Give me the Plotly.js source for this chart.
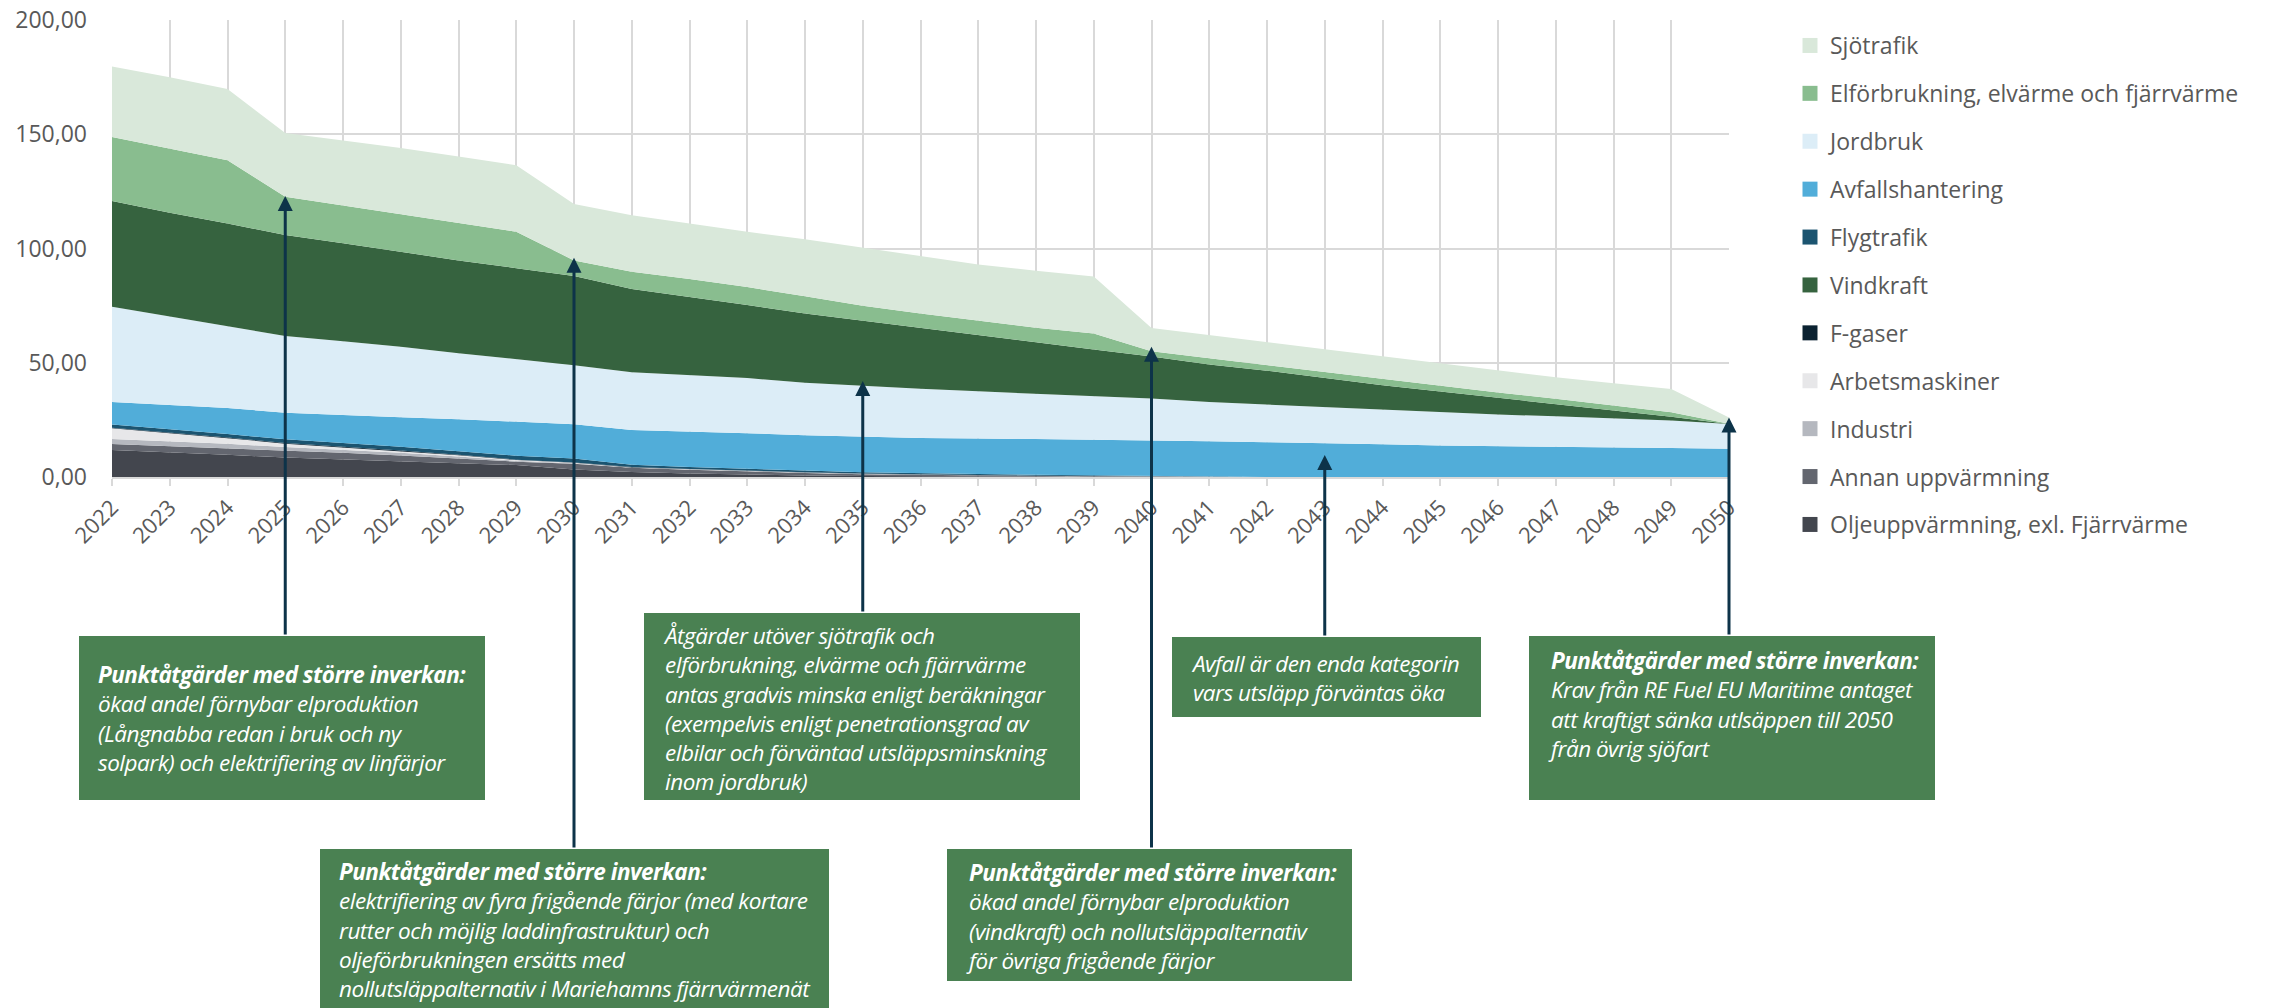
<!DOCTYPE html>
<html>
<head>
<meta charset="utf-8">
<script src="https://cdn.plot.ly/plotly-3.0.1.min.js"></script>
<style>
  html, body { margin: 0; padding: 0; background: #ffffff; }
  #chart { width: 2274px; height: 1008px; }
  svg text.annotation-text { letter-spacing: -0.5px; }
</style>
</head>
<body>
<div id="chart"></div>
<script>
// Utsläpp per sektor 2022–2050 (staplad yta)
const years = [2022, 2023, 2024, 2025, 2026, 2027, 2028, 2029, 2030, 2031, 2032, 2033, 2034, 2035, 2036,
  2037, 2038, 2039, 2040, 2041, 2042, 2043, 2044, 2045, 2046, 2047, 2048, 2049, 2050];

const oljeuppvarmning = [11.8, 10.9, 9.7, 8.5, 7.7, 6.9, 6.0, 5.2, 3.3, 2.2, 1.5, 1.0, 0.7, 0.4, 0.3,
  0.2, 0.15, 0.1, 0.05, 0, 0, 0, 0, 0, 0, 0, 0, 0, 0];
const annanUppvarmning = [2.6, 2.6, 2.9, 3.2, 2.9, 2.5, 2.1, 1.5, 2.5, 1.8, 1.7, 1.4, 1.1, 0.8, 0.6,
  0.4, 0.25, 0.15, 0.1, 0, 0, 0, 0, 0, 0, 0, 0, 0, 0];
const industri = [2.2, 2.1, 1.9, 1.4, 1.4, 1.2, 0.9, 0.4, 0.2, 0.1, 0.1, 0.1, 0.1, 0.1, 0.1,
  0.1, 0.05, 0.05, 0, 0, 0, 0, 0, 0, 0, 0, 0, 0, 0];
const arbetsmaskiner = [4.7, 3.6, 2.5, 1.5, 1.0, 0.8, 0.5, 0.3, 0.2, 0.1, 0.1, 0.1, 0.1, 0.1, 0.05,
  0.05, 0.05, 0.05, 0.05, 0, 0, 0, 0, 0, 0, 0, 0, 0, 0];
const fGaser = [0.3, 0.3, 0.3, 0.25, 0.25, 0.2, 0.2, 0.2, 0.15, 0.15, 0.1, 0.1, 0.1, 0.1, 0.05,
  0.05, 0.05, 0.05, 0.05, 0, 0, 0, 0, 0, 0, 0, 0, 0, 0];
const flygtrafik = [1.4, 1.5, 1.5, 1.65, 1.65, 1.6, 1.6, 1.7, 1.75, 1.05, 0.9, 0.8, 0.7, 0.6, 0.5,
  0.5, 0.45, 0.3, 0.15, 0, 0, 0, 0, 0, 0, 0, 0, 0, 0];
const avfallshantering = [9.8, 10.6, 11.4, 11.6, 12.1, 12.9, 14.0, 14.9, 15.0, 15.2, 15.6, 15.7, 15.5, 15.5, 15.5,
  15.6, 15.6, 15.7, 15.8, 15.6, 15.2, 14.9, 14.3, 13.8, 13.6, 13.3, 13.0, 12.7, 12.4];
const jordbruk = [41.7, 38.7, 35.9, 33.6, 32.4, 30.9, 28.9, 27.4, 25.8, 25.2, 24.5, 24.1, 23.0, 22.2, 21.5,
  20.6, 19.8, 19.1, 18.1, 17.2, 16.5, 15.9, 15.4, 14.8, 13.7, 13.3, 12.5, 12.0, 10.8];
const vindkraft = [46.3, 45.3, 44.8, 44.2, 42.9, 41.4, 40.6, 39.8, 39.1, 36.5, 34.4, 32.0, 30.2, 28.5, 26.6,
  24.5, 22.5, 20.3, 18.4, 16.4, 14.8, 12.4, 10.5, 8.8, 7.3, 5.3, 3.7, 1.7, 0];
const elforbrukning = [28.0, 28.2, 27.7, 16.8, 16.5, 16.8, 16.5, 15.9, 6.8, 7.5, 7.8, 7.8, 7.6, 6.7, 6.4,
  6.3, 6.4, 7.0, 2.3, 2.8, 2.5, 2.6, 2.5, 2.4, 2.4, 2.3, 2.1, 1.9, 0.1];
const sjotrafik = [30.9, 31.2, 31.2, 27.8, 28.5, 28.8, 29.0, 29.1, 24.7, 24.7, 24.2, 24.2, 25.0, 25.3, 25.0,
  24.7, 25.0, 25.0, 10.2, 10.2, 10.0, 10.1, 10.1, 9.9, 9.6, 9.4, 9.7, 10.2, 2.7];

// Stacking order, bottom to top
const stackNames = ['Oljeuppvärmning, exl. Fjärrvärme', 'Annan uppvärmning', 'Industri', 'Arbetsmaskiner',
  'F-gaser', 'Flygtrafik', 'Avfallshantering', 'Jordbruk', 'Vindkraft',
  'Elförbrukning, elvärme och fjärrvärme', 'Sjötrafik'];
const stackValues = [oljeuppvarmning, annanUppvarmning, industri, arbetsmaskiner, fGaser, flygtrafik,
  avfallshantering, jordbruk, vindkraft, elforbrukning, sjotrafik];
const stackColors = ['#43464e', '#63666f', '#b5b8bf', '#e7e7e9', '#0b2231', '#1b5470',
  '#51add9', '#dcedf7', '#36633f', '#89bd8f', '#d9e8da'];

// Legend order, top to bottom
const legendNames = ['Sjötrafik', 'Elförbrukning, elvärme och fjärrvärme', 'Jordbruk', 'Avfallshantering',
  'Flygtrafik', 'Vindkraft', 'F-gaser', 'Arbetsmaskiner', 'Industri', 'Annan uppvärmning',
  'Oljeuppvärmning, exl. Fjärrvärme'];

// Notes below the chart: arrow target (year, level) and box text
const noteYears = [2025, 2030, 2035, 2040, 2043, 2050];
const noteLevels = [123, 96, 42, 57, 9.6, 26];
const noteTexts = [
  '<b>Punktåtgärder med större inverkan:</b><br>ökad andel förnybar elproduktion<br>(Långnabba redan i bruk och ny<br>solpark) och elektrifiering av linfärjor',
  '<b>Punktåtgärder med större inverkan:</b><br>elektrifiering av fyra frigående färjor (med kortare<br>rutter och möjlig laddinfrastruktur) och<br>oljeförbrukningen ersätts med<br>nollutsläppalternativ i Mariehamns fjärrvärmenät',
  'Åtgärder utöver sjötrafik och<br>elförbrukning, elvärme och fjärrvärme<br>antas gradvis minska enligt beräkningar<br>(exempelvis enligt penetrationsgrad av<br>elbilar och förväntad utsläppsminskning<br>inom jordbruk)',
  '<b>Punktåtgärder med större inverkan:</b><br>ökad andel förnybar elproduktion<br>(vindkraft) och nollutsläppalternativ<br>för övriga frigående färjor',
  'Avfall är den enda kategorin<br>vars utsläpp förväntas öka',
  '<b>Punktåtgärder med större inverkan:</b><br>Krav från RE Fuel EU Maritime antaget<br>att kraftigt sänka utlsäppen till 2050<br>från övrig sjöfart'
];

// Page geometry (pixels)
const W = 2274, H = 1008;
const M = { l: 112, r: 545, t: 20, b: 531 };
const plotW = W - M.l - M.r, plotH = H - M.t - M.b;
const yMax = 200;
const px2paperX = px => (px - M.l) / plotW;
const px2paperY = py => (H - M.b - py) / plotH;
const py2value = py => (H - M.b - py) / plotH * yMax;

// Note boxes: [left, right, top, bottom] and text anchor [left, top]
const boxes = [
  [79, 485, 636, 800], [320, 829, 849, 1040], [644, 1080, 613, 800],
  [947, 1352, 849, 981], [1172, 1481, 637, 717], [1529, 1935, 636, 800]
];
const textAnchors = [[97, 658], [338, 855], [662, 619], [965, 856], [1190, 647], [1547, 644]];

const traces = stackNames.map((name, i) => ({
  type: 'scatter',
  x: years,
  y: stackValues[i],
  name: name,
  stackgroup: 'utslapp',
  mode: 'lines',
  line: { width: 0, color: stackColors[i] },
  fillcolor: stackColors[i],
  showlegend: false,
  hoverinfo: 'x+y+name'
}));

// Legend entries with square swatches
legendNames.forEach(name => {
  const idx = stackNames.indexOf(name);
  traces.push({
    type: 'scatter',
    x: [null], y: [null],
    name: name,
    legendgroup: name,
    mode: 'markers',
    marker: { symbol: 'square', size: 15, color: stackColors[idx] },
    showlegend: true,
    hoverinfo: 'skip'
  });
});

const shapes = boxes.map(b => ({
  type: 'rect', xref: 'paper', yref: 'paper', layer: 'above',
  x0: px2paperX(b[0]), x1: px2paperX(b[1]),
  y0: px2paperY(b[3]), y1: px2paperY(b[2]),
  fillcolor: '#4a8152', line: { width: 0 }
}));

const noteFont = { family: '"Open Sans", sans-serif', size: 22.5, color: '#ffffff', style: 'italic' };

const annotations = [];
noteYears.forEach((yr, i) => {
  annotations.push({
    xref: 'x', yref: 'y', axref: 'x', ayref: 'y',
    x: yr, y: noteLevels[i], ax: yr, ay: py2value(boxes[i][2]),
    text: '', showarrow: true,
    arrowhead: 2, arrowsize: 1, arrowwidth: 3, arrowcolor: '#0d3349', standoff: 0, startstandoff: 0
  });
  annotations.push({
    xref: 'paper', yref: 'paper',
    x: px2paperX(textAnchors[i][0]), y: px2paperY(textAnchors[i][1]),
    xanchor: 'left', yanchor: 'top', align: 'left',
    text: '<i>' + noteTexts[i] + '</i>', showarrow: false,
    font: noteFont, borderpad: 0
  });
});

const layout = {
  width: W, height: H,
  margin: M,
  paper_bgcolor: '#ffffff', plot_bgcolor: '#ffffff',
  separators: ',.',
  font: { family: '"Open Sans", sans-serif', color: '#595959' },
  showlegend: true,
  legend: {
    x: px2paperX(1790), y: px2paperY(24), xanchor: 'left', yanchor: 'top',
    traceorder: 'grouped', tracegroupgap: 15, maxheight: 900,
    font: { family: '"Open Sans", sans-serif', size: 23, color: '#595959' },
    bgcolor: 'rgba(0,0,0,0)'
  },
  xaxis: {
    range: [2022, 2050], tickmode: 'array', tickvals: years, ticktext: years.map(String),
    tickangle: -45, tickfont: { size: 22, color: '#595959' },
    showgrid: true, gridcolor: '#d9d9d9', gridwidth: 2,
    showline: true, linecolor: '#d9d9d9', linewidth: 2,
    ticks: 'outside', ticklen: 7, tickwidth: 2, tickcolor: '#d9d9d9',
    zeroline: false, fixedrange: true
  },
  yaxis: {
    range: [0, yMax], dtick: 50, tickformat: '.2f',
    tickfont: { size: 23, color: '#595959' },
    showgrid: true, gridcolor: '#d9d9d9', gridwidth: 2,
    showline: false, zeroline: false, ticks: '', ticklabelstandoff: 24,
    fixedrange: true
  },
  shapes: shapes,
  annotations: annotations
};

Plotly.newPlot('chart', traces, layout, { displayModeBar: false, staticPlot: true });
</script>
</body>
</html>
